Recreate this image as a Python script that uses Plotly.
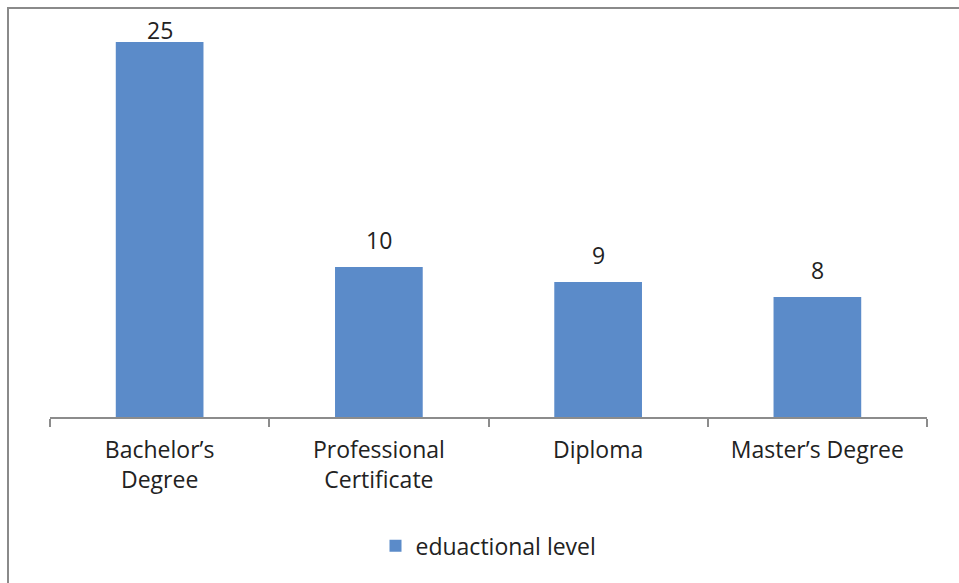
import plotly.graph_objects as go

categories = ["Bachelor’s<br>Degree", "Professional<br>Certificate", "Diploma", "Master’s Degree"]
values = [25, 10, 9, 8]
series_name = "eduactional level"

W, H = 959, 583
ml, mr, mt, mb = 50, 32, 27, 166
ymax = 26
FONT = "Open Sans"
FS = 23

plot_h = H - mt - mb
plot_w = W - ml - mr
px_per_unit = plot_h / ymax

fig = go.Figure()
fig.add_trace(go.Bar(
    x=categories, y=values, name=series_name,
    marker=dict(color="#5B8BC9", line=dict(width=0)),
))

# data labels above bars (pushed down near the top edge, as in the original)
for c, v in zip(categories, values):
    shift = min(27, (ymax - v) * px_per_unit - 3)
    fig.add_annotation(x=c, y=v, text=str(v), showarrow=False,
                       yshift=shift, yanchor="middle",
                       font=dict(size=FS, color="#222222", family=FONT))

fig.add_shape(type="rect", xref="paper", yref="paper",
              x0=(8 - ml) / plot_w, x1=(W + 20 - ml) / plot_w,
              y0=-(H + 20 - mt - plot_h) / plot_h, y1=1 + (mt - 8) / plot_h,
              line=dict(color="#8A8A8A", width=2), layer="below")

fig.update_layout(
    width=W, height=H,
    margin=dict(l=ml, r=mr, t=mt, b=mb),
    paper_bgcolor="white", plot_bgcolor="white",
    bargap=0.6,
    showlegend=True,
    legend=dict(orientation="h", x=0.5, xanchor="center", y=-0.275, yanchor="top",
                font=dict(size=FS, color="#222222", family=FONT)),
    font=dict(family=FONT, size=FS, color="#222222"),
)
fig.update_xaxes(showline=True, linecolor="#8C8C8C", linewidth=2,
                 ticks="outside", ticklen=8, tickcolor="#8C8C8C", tickwidth=2,
                 tickson="boundaries", showgrid=False, ticklabelstandoff=11,
                 tickfont=dict(size=FS, color="#222222", family=FONT))
fig.update_yaxes(visible=False, range=[0, ymax], showgrid=False, zeroline=False)

fig.write_html("out.html")
